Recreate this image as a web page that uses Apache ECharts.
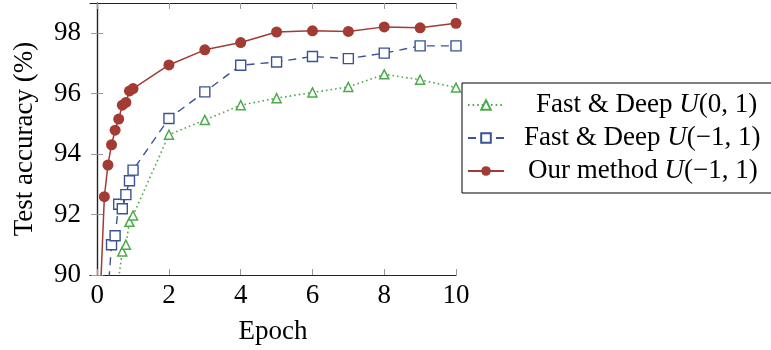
<!DOCTYPE html>
<html>
<head>
<meta charset="utf-8">
<script src="https://cdn.jsdelivr.net/npm/echarts@6/dist/echarts.min.js"></script>
<style>
  html, body { margin: 0; padding: 0; background: #fff; }
  #chart { width: 771px; height: 350px; }
</style>
</head>
<body>
<div id="chart"></div>
<script>
// epochs (fractions of the first epoch, then whole epochs)
const epochs = [0.1, 0.2, 0.3, 0.4, 0.5, 0.6, 0.7, 0.8, 0.9, 1.0, 2, 3, 4, 5, 6, 7, 8, 9, 10];
const fastDeep01 = [null, null, null, null, null, 89.9, 90.78, 91.0, 91.76, 91.97, 94.64, 95.13, 95.62, 95.85, 96.04, 96.22, 96.64, 96.46, 96.2];
const fastDeepM11 = [null, null, 89.4, 91.0, 91.3, 92.34, 92.19, 92.66, 93.12, 93.47, 95.18, 96.06, 96.94, 97.05, 97.23, 97.16, 97.34, 97.58, 97.58];
const ourMethod = [89.7, 92.59, 93.64, 94.31, 94.79, 95.16, 95.62, 95.71, 96.09, 96.17, 96.95, 97.45, 97.69, 98.04, 98.08, 98.06, 98.21, 98.18, 98.33];
const xTicks = [0, 2, 4, 6, 8, 10];
const yTicks = [90, 92, 94, 96, 98];
const names = ['Fast & Deep U(0,1)', 'Fast & Deep U(-1,1)', 'Our method U(-1,1)'];

const FONT = 'Liberation Serif';
const FS = 27;
const RED = '#a23b33';
const BLUE = '#3b5396';
const GREEN = '#4caa4c';

function pairs(ys) {
  return epochs.map((x, i) => [x, ys[i]]);
}

const chart = echarts.init(document.getElementById('chart'));

const tickStyle = { show: true, inside: true, length: 6, lineStyle: { color: '#999', width: 1 } };
const frameLine = { show: true, lineStyle: { color: '#222', width: 1.2 } };

const option = {
  animation: false,
  grid: { left: 90, right: 315, top: 3, bottom: 74 },
  legend: {
    orient: 'vertical',
    left: 462,
    top: 83,
    padding: [8, 12, 8, 5],
    itemGap: 5,
    itemWidth: 36,
    itemHeight: 12,
    borderColor: '#000',
    borderWidth: 1,
    data: names,
    textStyle: {
      fontFamily: FONT,
      fontSize: FS,
      color: '#000',
      lineHeight: 28,
      rich: {
        i: { fontFamily: FONT, fontStyle: 'italic', fontSize: FS, color: '#000' },
        p1: { width: 27 },
        p2: { width: 15 },
        p3: { width: 19 }
      }
    },
    formatter: function (name) {
      if (name === names[0]) return '{p1|}Fast & Deep {i|U}(0, 1)';
      if (name === names[1]) return '{p2|}Fast & Deep {i|U}(\u22121, 1)';
      return '{p3|}Our method {i|U}(\u22121, 1)';
    }
  },
  xAxis: [
    {
      type: 'value',
      min: -0.2,
      max: 10,
      name: 'Epoch',
      nameLocation: 'middle',
      nameGap: 43,
      nameTextStyle: { fontFamily: FONT, fontSize: FS, color: '#000' },
      axisLine: frameLine,
      axisTick: Object.assign({ customValues: xTicks }, tickStyle),
      axisLabel: { customValues: xTicks, fontFamily: FONT, fontSize: FS, color: '#000', margin: 7 },
      splitLine: { show: false }
    },
    {
      type: 'value',
      position: 'top',
      min: -0.2,
      max: 10,
      axisLine: frameLine,
      axisTick: Object.assign({ customValues: xTicks }, tickStyle),
      axisLabel: { show: false },
      splitLine: { show: false }
    }
  ],
  yAxis: [
    {
      type: 'value',
      min: 90,
      max: 99,
      name: 'Test accuracy (%)',
      nameLocation: 'middle',
      nameGap: 52,
      nameTextStyle: { fontFamily: FONT, fontSize: FS, color: '#000' },
      axisLine: frameLine,
      axisTick: Object.assign({ customValues: yTicks }, tickStyle),
      axisLabel: { customValues: yTicks, fontFamily: FONT, fontSize: FS, color: '#000', margin: 9 },
      splitLine: { show: false }
    },
    {
      type: 'value',
      position: 'right',
      min: 90,
      max: 99,
      axisLine: frameLine,
      axisTick: Object.assign({ customValues: yTicks }, tickStyle),
      axisLabel: { show: false },
      splitLine: { show: false }
    }
  ],
  series: [
    {
      name: names[0],
      type: 'line',
      data: pairs(fastDeep01),
      symbol: 'triangle',
      symbolSize: 9,
      showAllSymbol: true,
      lineStyle: { color: GREEN, width: 1.6, type: [1.6, 3] },
      itemStyle: { color: '#fff', borderColor: GREEN, borderWidth: 1.5 }
    },
    {
      name: names[1],
      type: 'line',
      data: pairs(fastDeepM11),
      symbol: 'rect',
      symbolSize: 10,
      showAllSymbol: true,
      lineStyle: { color: BLUE, width: 1.4, type: [8, 6] },
      itemStyle: { color: '#fff', borderColor: BLUE, borderWidth: 1.4 }
    },
    {
      name: names[2],
      type: 'line',
      data: pairs(ourMethod),
      symbol: 'circle',
      symbolSize: 11,
      showAllSymbol: true,
      lineStyle: { color: RED, width: 1.5 },
      itemStyle: { color: RED, borderColor: RED, borderWidth: 0 }
    }
  ]
};

chart.setOption(option);
</script>
</body>
</html>
